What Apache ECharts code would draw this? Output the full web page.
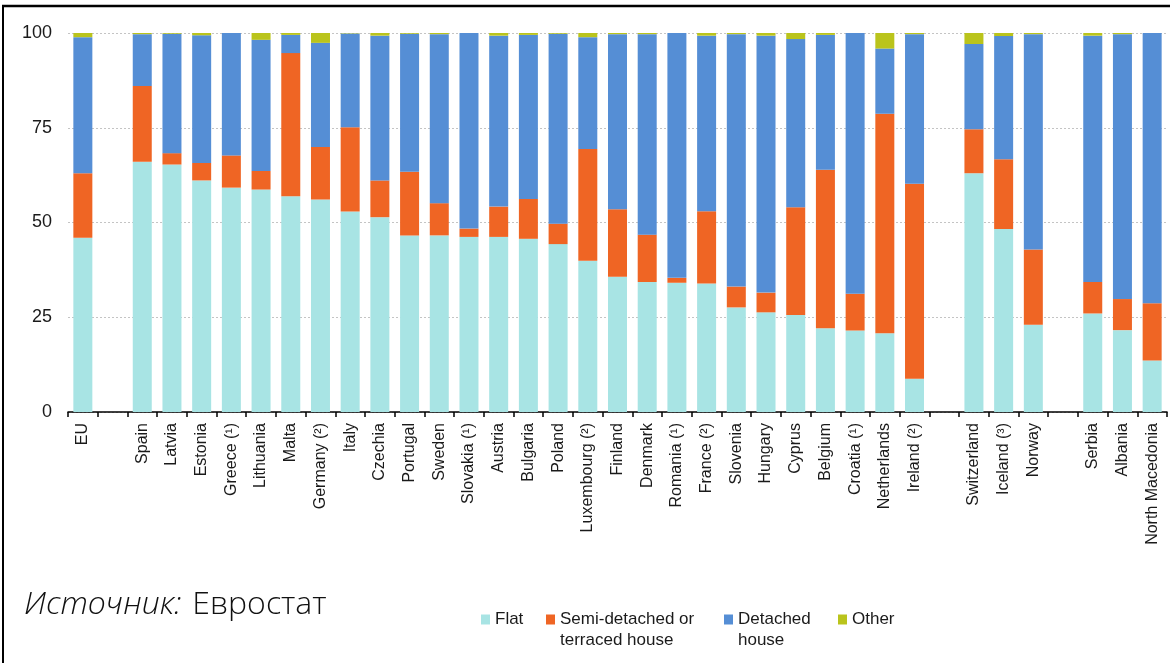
<!DOCTYPE html>
<html>
<head>
<meta charset="utf-8">
<style>
  html, body { margin: 0; padding: 0; background: #ffffff; }
  #chart { width: 1170px; height: 663px; }
</style>
<script src="https://cdn.jsdelivr.net/npm/echarts@6/dist/echarts.min.js"></script>
</head>
<body>
<div id="chart"></div>
<script>
// Dwellings by type, % of population. Blank strings separate the country groups.
const categories = [
  'EU', ' ',
  'Spain', 'Latvia', 'Estonia', 'Greece (¹)', 'Lithuania', 'Malta', 'Germany (²)', 'Italy',
  'Czechia', 'Portugal', 'Sweden', 'Slovakia (¹)', 'Austria', 'Bulgaria', 'Poland',
  'Luxembourg (²)', 'Finland', 'Denmark', 'Romania (¹)', 'France (²)', 'Slovenia', 'Hungary',
  'Cyprus', 'Belgium', 'Croatia (¹)', 'Netherlands', 'Ireland (²)', '  ',
  'Switzerland', 'Iceland (³)', 'Norway', '   ',
  'Serbia', 'Albania', 'North Macedonia'
];

const flat = [
  46.0, null,
  66.0, 65.3, 61.1, 59.2, 58.7, 56.9, 56.1, 52.9,
  51.4, 46.6, 46.6, 46.2, 46.2, 45.7, 44.3,
  39.9, 35.7, 34.3, 34.1, 33.9, 27.6, 26.3,
  25.6, 22.1, 21.5, 20.8, 8.8, null,
  63.0, 48.3, 23.0, null,
  26.0, 21.6, 13.6
];

const semiDetached = [
  17.0, null,
  20.0, 3.0, 4.6, 8.5, 4.9, 37.8, 13.8, 22.2,
  9.7, 16.8, 8.5, 2.2, 8.0, 10.5, 5.4,
  29.5, 17.8, 12.5, 1.3, 19.1, 5.5, 5.2,
  28.4, 41.8, 9.7, 57.9, 51.4, null,
  11.6, 18.4, 19.9, null,
  8.3, 8.2, 15.1
];

const detached = [
  35.9, null,
  13.7, 31.5, 33.7, 32.3, 34.6, 4.8, 27.5, 24.8,
  38.2, 36.4, 44.6, 51.6, 45.1, 43.3, 50.1,
  29.5, 46.2, 52.9, 64.6, 46.3, 66.6, 67.8,
  44.4, 35.6, 68.8, 17.2, 39.5, null,
  22.5, 32.5, 56.8, null,
  65.0, 69.9, 71.3
];

const other = [
  1.1, null,
  0.3, 0.2, 0.6, 0.0, 1.8, 0.5, 2.6, 0.1,
  0.7, 0.2, 0.3, 0.0, 0.7, 0.5, 0.2,
  1.1, 0.3, 0.3, 0.0, 0.7, 0.3, 0.7,
  1.6, 0.5, 0.0, 4.1, 0.3, null,
  2.9, 0.8, 0.3, null,
  0.7, 0.3, 0.0
];

const yTicks = [0, 25, 50, 75, 100];

const seriesNames = ['Flat', 'Semi-detached or\nterraced house', 'Detached\nhouse', 'Other'];
const seriesColors = ['#a8e4e4', '#ef6524', '#558ed5', '#bac41c'];
const seriesData = [flat, semiDetached, detached, other];
const legendLefts = [481, 546, 724, 838];

const chart = echarts.init(document.getElementById('chart'), null, { renderer: 'canvas' });

const legendFont = { fontFamily: 'Liberation Sans, Arial, sans-serif', fontSize: 17, color: '#1a1a1a', lineHeight: 21 };

const option = {
  animation: false,
  backgroundColor: '#ffffff',
  grid: { left: 68, right: 3, top: 33, bottom: 251, containLabel: false },
  // one legend per entry so each sits at its own spot; two-line entries get an
  // empty leading line so their first line stays level with the colour key
  legend: seriesNames.map((name, i) => {
    const twoLine = name.indexOf('\n') >= 0;
    return {
      data: [name],
      formatter: twoLine ? (n => '\u00a0\n' + n) : (n => n),
      left: legendLefts[i],
      top: twoLine ? 588 : 609,
      padding: 0,
      itemWidth: 9,
      itemHeight: 10,
      icon: 'rect',
      selectedMode: false,
      textStyle: legendFont
    };
  }),
  xAxis: {
    type: 'category',
    data: categories,
    axisLine: { lineStyle: { color: '#000000', width: 1.5 } },
    axisTick: { show: true, interval: 0, length: 5, lineStyle: { color: '#000000', width: 1.5 } },
    axisLabel: {
      interval: 0,
      rotate: 90,
      margin: 11,
      fontFamily: 'Liberation Sans, Arial, sans-serif',
      fontSize: 16,
      color: '#1a1a1a'
    },
    splitLine: { show: false }
  },
  yAxis: {
    type: 'value',
    min: yTicks[0],
    max: yTicks[yTicks.length - 1],
    interval: yTicks[1] - yTicks[0],
    axisLine: { show: false },
    axisTick: { show: false },
    axisLabel: {
      margin: 16,
      fontFamily: 'Liberation Sans, Arial, sans-serif',
      fontSize: 18,
      color: '#1a1a1a'
    },
    splitLine: { lineStyle: { color: '#c4c4c4', type: [2, 2], width: 1 } }
  },
  series: seriesNames.map((name, i) => ({
    name: name,
    type: 'bar',
    stack: 'total',
    barWidth: 19,
    data: seriesData[i],
    itemStyle: { color: seriesColors[i] }
  })),
  graphic: [
    // frame lines along the top and left edges
    { type: 'line', shape: { x1: 2, y1: 6, x2: 1170, y2: 6 }, style: { stroke: '#000000', lineWidth: 2.5 }, silent: true },
    { type: 'line', shape: { x1: 3, y1: 5, x2: 3, y2: 663 }, style: { stroke: '#000000', lineWidth: 2 }, silent: true },
    {
      type: 'text',
      left: 24,
      top: 589,
      style: {
        text: '{i|Источник:}{s| }{n|Евростат}',
        rich: {
          i: { fontFamily: 'Open Sans, Noto Sans, sans-serif', fontWeight: 300, fontStyle: 'italic', fontSize: 32, fill: '#111111' },
          s: { fontSize: 32, width: 11 },
          n: { fontFamily: 'Open Sans, Noto Sans, sans-serif', fontWeight: 300, fontSize: 32, fill: '#111111' }
        }
      }
    }
  ]
};

chart.setOption(option);
</script>
</body>
</html>
